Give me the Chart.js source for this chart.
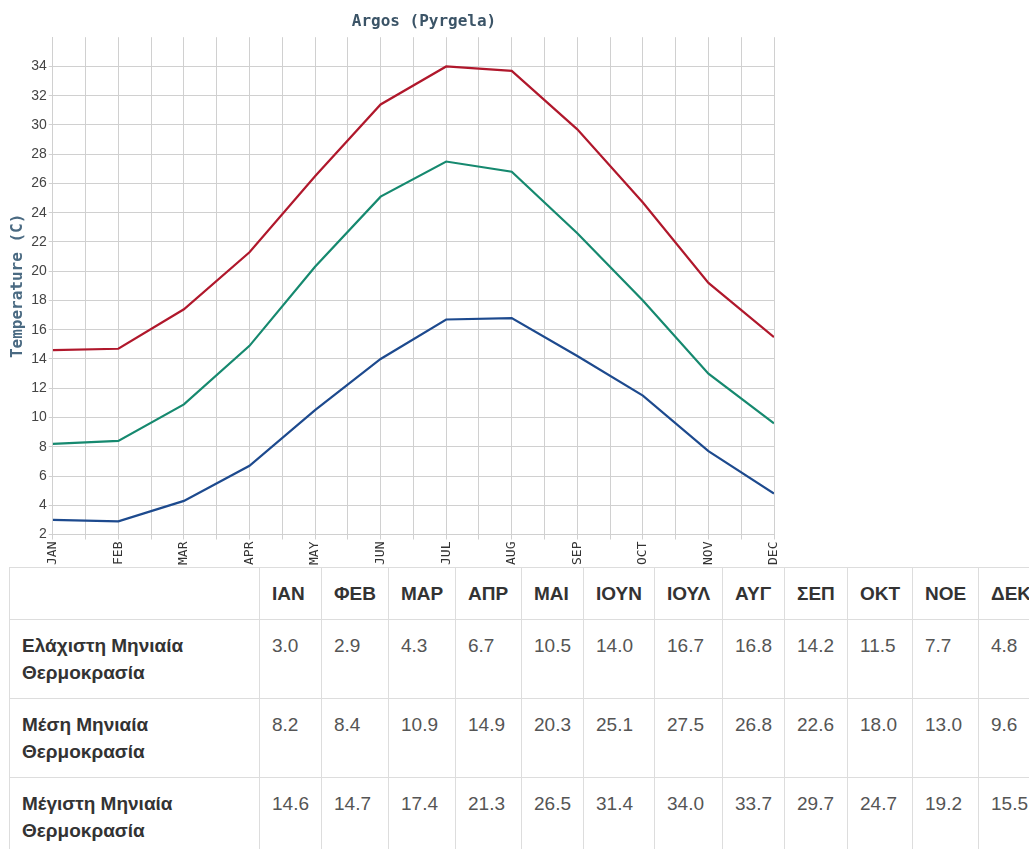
<!DOCTYPE html>
<html>
<head>
<meta charset="utf-8">
<script src="https://cdn.jsdelivr.net/npm/chart.js@4"></script>
<style>
  html, body { margin: 0; padding: 0; background: #fff; overflow: hidden; }
  #wrap { position: relative; width: 840px; height: 567px; }
  table.temps {
    position: absolute; left: 9px; top: 567px;
    border-collapse: collapse; table-layout: fixed;
    font-family: "Liberation Sans", Arial, sans-serif; font-size: 19px; color: #555;
  }
  table.temps td, table.temps th {
    border: 1px solid #ddd; padding: 12px 12px; line-height: 27px;
    vertical-align: top; text-align: left; white-space: nowrap; overflow: hidden;
  }
  table.temps th { font-weight: bold; color: #333; }
  table.temps td.name { font-weight: bold; color: #333; white-space: normal; }
</style>
</head>
<body>
<div id="wrap"><canvas id="chart"></canvas></div>
<table class="temps" id="tbl"></table>
<script>
// months on the chart axis, and the Greek headers of the table
var months = ["JAN", "FEB", "MAR", "APR", "MAY", "JUN", "JUL", "AUG", "SEP", "OCT", "NOV", "DEC"];
var monthsGr = ["ΙΑΝ", "ΦΕΒ", "ΜΑΡ", "ΑΠΡ", "ΜΑΙ", "ΙΟΥΝ", "ΙΟΥΛ", "ΑΥΓ", "ΣΕΠ", "ΟΚΤ", "ΝΟΕ", "ΔΕΚ"];

// monthly temperatures (C)
var tempMin  = [3.0, 2.9, 4.3, 6.7, 10.5, 14.0, 16.7, 16.8, 14.2, 11.5, 7.7, 4.8];
var tempMean = [8.2, 8.4, 10.9, 14.9, 20.3, 25.1, 27.5, 26.8, 22.6, 18.0, 13.0, 9.6];
var tempMax  = [14.6, 14.7, 17.4, 21.3, 26.5, 31.4, 34.0, 33.7, 29.7, 24.7, 19.2, 15.5];

var rowNames = ["Ελάχιστη Μηνιαία Θερμοκρασία", "Μέση Μηνιαία Θερμοκρασία", "Μέγιστη Μηνιαία Θερμοκρασία"];

function pts(arr) {
    return arr.map(function (v, i) { return { x: i, y: v }; });
}

var gridCol = '#d0d0d0';
var mono = '"DejaVu Sans Mono", "Liberation Mono", monospace';

var chart = new Chart(document.getElementById('chart'), {
    type: 'line',
    data: {
        datasets: [
            { label: 'max',  data: pts(tempMax),  borderColor: '#b0182c', borderWidth: 2.2, pointRadius: 0, tension: 0, fill: false },
            { label: 'mean', data: pts(tempMean), borderColor: '#16896f', borderWidth: 2.2, pointRadius: 0, tension: 0, fill: false },
            { label: 'min',  data: pts(tempMin),  borderColor: '#1d4a8e', borderWidth: 2.2, pointRadius: 0, tension: 0, fill: false }
        ]
    },
    options: {
        responsive: true,
        maintainAspectRatio: false,
        animation: false,
        layout: { padding: { left: 8, right: 0, top: 0, bottom: 0 } },
        plugins: {
            legend: { display: false },
            tooltip: { enabled: false },
            title: {
                display: true,
                text: 'Argos (Pyrgela)',
                color: '#3b5467',
                font: { family: mono, size: 16, weight: 'bold' },
                padding: { top: 12, bottom: 6 }
            }
        },
        scales: {
            x: {
                type: 'linear',
                min: 0,
                max: 11,
                ticks: {
                    stepSize: 0.5,
                    autoSkip: false,
                    maxRotation: 90,
                    minRotation: 90,
                    color: '#333',
                    font: { family: mono, size: 13 },
                    padding: 2,
                    callback: function (v) {
                        return Number.isInteger(v) ? months[v] : '';
                    }
                },
                grid: { color: gridCol, tickLength: 5 },
                border: { color: gridCol }
            },
            y: {
                min: 2,
                max: 36,
                ticks: {
                    stepSize: 2,
                    color: '#444',
                    font: { family: '"Liberation Sans", Arial, sans-serif', size: 14 },
                    padding: 2,
                    callback: function (v) { return v === 36 ? '' : v; }
                },
                grid: {
                    color: function (ctx) { return ctx.tick && ctx.tick.value === 36 ? 'rgba(0,0,0,0)' : gridCol; },
                    tickLength: 4
                },
                border: { color: gridCol },
                title: {
                    display: true,
                    text: 'Temperature (C)',
                    color: '#4a6a82',
                    font: { family: mono, size: 16, weight: 'bold' },
                    padding: { top: 0, bottom: 2 }
                }
            },
            // empty space on the right so the title sits where it does in the source
            spacer: {
                position: 'right',
                display: true,
                ticks: { display: false },
                grid: { display: false },
                border: { display: false },
                afterFit: function (s) { s.width = 66; }
            }
        }
    }
});

// table under the chart
var tbl = document.getElementById('tbl');
var colW = [250, 62, 67, 67, 66, 62, 71, 68, 62, 63, 65, 66, 66];
var total = colW.reduce(function (a, b) { return a + b; }, 0);
tbl.style.width = total + 'px';
var cg = '<colgroup>' + colW.map(function (w) { return '<col style="width:' + w + 'px">'; }).join('') + '</colgroup>';
var head = '<tr><th></th>' + monthsGr.map(function (m) { return '<th>' + m + '</th>'; }).join('') + '</tr>';
var rows = [tempMin, tempMean, tempMax].map(function (arr, r) {
    return '<tr><td class="name">' + rowNames[r] + '</td>' +
        arr.map(function (v) { return '<td>' + v.toFixed(1) + '</td>'; }).join('') + '</tr>';
}).join('');
tbl.innerHTML = cg + head + rows;
</script>
</body>
</html>
